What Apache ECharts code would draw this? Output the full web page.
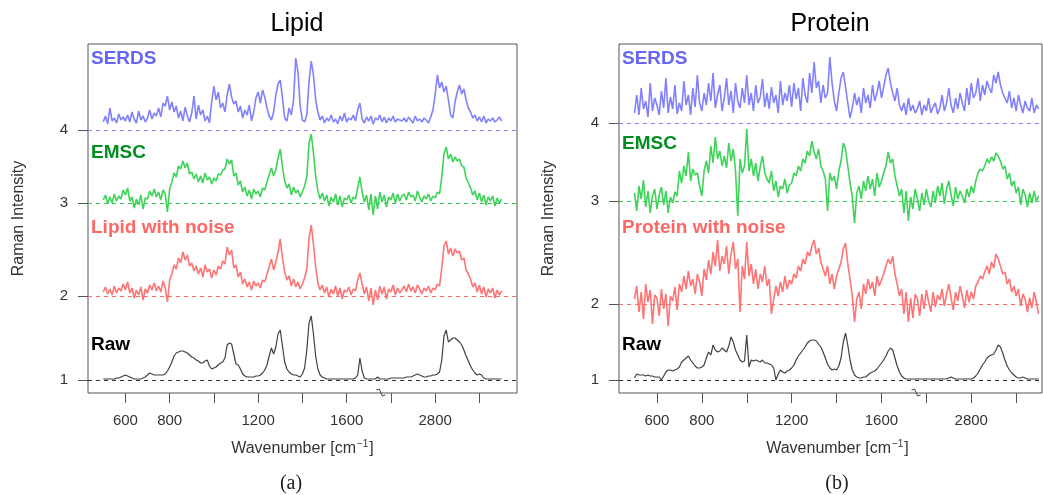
<!DOCTYPE html>
<html lang="en">
<head>
<meta charset="UTF-8">
<title>Lipid / Protein</title>
<style>
    html,body{margin:0;padding:0;background:#fff;}
    #main{width:1043px;height:495px;}
</style>
</head>
<body>
<div id="main"></div>
<script src="https://cdn.jsdelivr.net/npm/echarts@6/dist/echarts.min.js"></script>
<script>
// wavenumbers [cm-1]; the axis is cut between 1750 and 2560
const wavenumber = [
    500,510,520,530,540,550,560,570,580,590,
    600,610,620,630,640,650,660,670,680,690,
    700,710,720,730,740,750,760,770,780,790,
    800,810,820,830,840,850,860,870,880,890,
    900,910,920,930,940,950,960,970,980,990,
    1000,1010,1020,1030,1040,1050,1060,1070,1080,1090,
    1100,1110,1120,1130,1140,1150,1160,1170,1180,1190,
    1200,1210,1220,1230,1240,1250,1260,1270,1280,1290,
    1300,1310,1320,1330,1340,1350,1360,1370,1380,1390,
    1400,1410,1420,1430,1440,1450,1460,1470,1480,1490,
    1500,1510,1520,1530,1540,1550,1560,1570,1580,1590,
    1600,1610,1620,1630,1640,1650,1660,1670,1680,1690,
    1700,1710,1720,1730,1740,1750,
    2560,2570,2580,2590,2600,2610,2620,2630,2640,2650,
    2660,2670,2680,2690,2700,2710,2720,2730,2740,2750,
    2760,2770,2780,2790,2800,2810,2820,2830,2840,2850,
    2860,2870,2880,2890,2900,2910,2920,2930,2940,2950,
    2960,2970,2980,2990,3000,3010,3020,3030,3040,3050,
    3060,3070,3080,3090,3100
];

// every trace in 0.01 intensity units above its own baseline
const lipidRaw = [
    1,1,1,1,1,1,2,2,3,4,
    5,4,3,2,1,1,1,1,2,3,
    5,7,6,5,5,5,5,5,6,9,
    13,18,24,27,28,29,29,28,27,25,
    23,22,20,19,17,17,19,20,14,11,
    12,13,15,17,18,22,35,37,36,26,
    16,15,11,6,4,3,3,3,3,4,
    4,5,7,10,15,24,32,26,33,46,
    50,34,18,11,8,6,5,5,4,3,
    6,12,30,57,64,46,24,11,5,3,
    2,1,1,1,1,1,1,1,1,1,
    1,1,1,1,2,5,22,9,2,1,
    1,1,1,1,3,1,
    1,1,1,1,2,2,2,2,2,2,
    2,3,3,3,4,5,6,5,4,3,
    3,4,4,5,5,6,8,20,44,50,
    38,40,42,42,40,38,35,30,24,19,
    14,10,7,5,6,5,2,1,1,1,
    1,1,1,1,1
];
const lipidNoise = [
    4,9,2,7,1,10,3,8,5,12,
    6,14,3,8,-2,6,1,9,-4,7,
    3,11,6,13,5,10,4,15,8,-6,
    16,22,31,27,38,33,44,36,41,30,
    33,25,30,22,28,19,31,24,27,18,
    26,21,30,27,35,32,49,41,46,28,
    31,19,24,12,17,9,14,6,15,10,
    13,8,16,14,22,29,37,26,34,44,
    57,38,24,16,20,10,17,9,14,7,
    12,18,27,58,71,52,29,13,6,11,
    3,9,-1,7,2,10,0,8,-3,6,
    4,9,1,7,5,16,23,12,2,9,
    -5,8,-9,6,-4,10,
    2,9,-3,7,4,11,1,8,3,6,
    10,4,12,5,9,3,11,7,2,8,
    5,10,3,8,6,12,10,28,50,55,
    42,48,40,47,43,45,36,38,26,22,
    17,9,13,4,11,2,9,-1,7,3,
    8,-2,6,1,5
];
const lipidEmsc = [
    3,8,-1,6,0,9,2,7,4,13,
    8,15,2,6,-5,4,-2,8,-6,5,
    4,12,7,14,6,11,3,13,9,-9,
    14,21,30,26,37,34,42,35,40,29,
    31,24,29,21,27,20,30,23,26,19,
    25,22,29,28,33,34,44,39,43,27,
    30,18,22,11,16,7,13,4,14,9,
    12,6,15,13,21,28,35,27,33,45,
    54,36,22,15,19,8,16,10,13,6,
    11,17,26,60,69,50,27,12,4,10,
    2,8,-3,6,1,9,-2,7,-4,5,
    3,8,0,6,4,15,26,11,1,8,
    -7,9,-12,7,-6,11,
    1,8,-4,6,3,10,0,9,2,7,
    9,3,11,6,8,2,12,6,1,7,
    4,9,2,7,5,11,9,26,49,56,
    44,49,41,46,42,44,37,36,25,20,
    15,8,12,3,10,1,8,-2,6,2,
    7,-3,5,0,4
];
const lipidSerds = [
    8,14,6,22,9,12,7,16,10,13,
    9,15,8,18,11,7,19,10,14,8,
    12,20,11,17,14,22,13,27,24,34,
    20,28,18,24,12,19,9,23,14,8,
    17,34,11,25,15,20,9,14,7,28,
    44,30,38,22,27,18,35,46,33,26,
    29,18,24,12,20,15,25,9,18,32,
    38,27,40,33,22,14,10,18,35,46,
    50,32,12,9,22,15,30,72,58,24,
    10,8,15,48,69,55,30,18,10,14,
    7,12,9,15,8,11,6,14,9,17,
    8,12,10,15,9,20,27,11,7,13,
    9,14,6,12,10,15,
    8,13,7,12,9,14,8,11,10,9,
    12,8,13,10,7,14,9,11,8,12,
    10,7,13,20,35,55,42,48,38,44,
    30,15,12,28,38,45,36,41,30,22,
    18,12,15,9,13,8,14,7,11,9,
    12,8,10,13,9
];

const proteinRaw = [
    2,6,5,5,5,4,5,4,4,3,
    3,3,0,4,8,10,10,9,10,11,
    13,18,20,22,24,20,17,14,12,12,
    13,15,22,28,25,35,30,28,29,32,
    30,28,34,43,38,30,25,20,18,19,
    45,13,20,19,20,19,18,20,17,17,
    16,15,12,0,6,10,8,7,9,10,
    12,15,20,24,27,30,33,37,39,40,
    40,39,36,33,28,22,16,12,10,11,
    10,14,22,38,47,35,20,10,5,3,
    2,2,3,3,5,7,8,9,11,14,
    17,20,24,29,32,30,22,14,8,4,
    2,1,1,1,1,1,
    1,1,1,1,1,1,1,1,1,1,
    1,1,1,1,2,3,2,1,1,1,
    1,1,1,1,1,2,4,7,11,15,
    18,22,24,25,26,30,35,33,27,20,
    14,10,7,5,3,2,2,3,2,1,
    1,1,1,1,1
];
const proteinNoise = [
    5,18,-8,12,-15,20,2,14,-20,9,
    6,-12,15,-5,10,-22,8,3,17,-6,
    20,12,28,15,33,18,25,10,30,22,
    8,35,24,44,30,52,38,64,33,48,
    40,58,30,50,62,35,45,-8,38,25,
    62,28,40,20,35,15,30,22,38,18,
    25,-10,5,18,8,22,12,28,15,24,
    20,30,26,38,33,45,40,52,48,58,
    64,50,56,42,35,28,38,20,30,15,
    28,35,42,55,61,40,25,8,-18,5,
    12,-5,20,10,25,15,22,8,28,18,
    24,30,38,45,40,48,30,20,8,15,
    -10,12,-18,6,-14,10,
    5,-12,10,-5,14,2,-8,12,-3,9,
    4,15,-2,10,20,6,-6,12,3,18,
    8,-4,14,2,12,5,18,22,28,25,
    32,38,30,42,36,50,45,38,30,32,
    20,25,12,18,8,15,-2,10,5,-8,
    6,-4,12,2,-10
];
const proteinEmsc = [
    8,-10,15,2,21,-6,10,-12,5,12,
    -8,6,14,-4,10,-12,4,-2,9,5,
    30,18,35,25,49,20,32,26,28,15,
    5,30,40,28,55,38,64,42,50,35,
    45,33,58,40,52,30,-15,42,28,35,
    72,30,42,25,38,20,34,45,28,22,
    18,30,10,20,4,15,12,22,8,16,
    18,28,25,35,30,42,38,50,45,60,
    49,42,52,35,30,22,-10,28,20,25,
    12,30,40,58,52,35,18,5,-22,8,
    15,2,20,10,25,12,22,5,28,14,
    20,28,35,49,38,42,25,15,5,12,
    -12,10,-20,4,-8,12,
    2,-10,8,-4,12,0,-6,10,-2,15,
    5,18,-3,12,20,6,-5,14,2,10,
    5,-2,12,4,15,8,20,28,32,30,
    35,42,38,44,40,48,45,40,32,35,
    22,28,15,20,8,14,-4,12,6,-6,
    8,-2,10,0,5
];
const proteinSerds = [
    10,28,8,35,14,22,6,40,12,25,
    18,8,32,15,45,10,26,14,38,9,
    20,12,42,18,28,8,35,16,48,20,
    12,30,18,40,22,50,15,28,38,12,
    25,45,18,32,10,40,22,15,35,20,
    48,18,30,12,38,20,26,44,16,30,
    14,36,20,28,10,42,18,30,22,38,
    16,40,24,35,12,45,28,20,50,30,
    61,35,42,20,38,25,30,66,40,22,
    12,30,45,51,36,20,5,15,30,18,
    26,10,35,20,28,15,38,22,30,42,
    25,36,48,55,40,30,22,35,18,12,
    20,8,25,12,18,10,
    14,22,8,18,12,25,10,16,20,9,
    15,28,12,20,35,18,10,25,14,30,
    20,12,35,18,40,25,30,45,22,38,
    28,42,35,30,48,40,51,38,30,25,
    20,32,15,25,12,28,18,10,22,15,
    12,25,10,18,14
];

// baselines of Raw, with noise, EMSC, SERDS (tick labels 1..4)
const lipidBase = [1, 1.84, 2.77, 3.50];
const proteinBase = [1, 1.76, 2.79, 3.57];
const tickLabels = ['1', '2', '3', '4'];
const xTicks = [600, 800, 1000, 1200, 1400, 1600, 1800, 2000, 2200];
const xLabelTicks = [600, 800, 1200, 1600, 2000];

const lineColors = ['#404040', '#ff5c5c', '#1ccb3c', '#6b6bff'];
const lineWidths = [1.2, 1.6, 1.6, 1.6];
const dashColors = ['#333333', '#ff6a6a', '#2fcf4f', '#8585ff'];
const nameColors = ['#000000', '#ff6666', '#008f1f', '#6666f2'];

// cut axis: 2560..3100 is moved left by 800
const posOf = w => (w > 1800 ? w - 800 : w);
const wnOf = p => (p > 1750 ? p + 800 : p);

const myChart = echarts.init(document.getElementById('main'));

const grids = [
    {left: 88, right: 526, top: 44, bottom: 102},
    {left: 619, right: 1, top: 44, bottom: 102}
];
const xRange = [[431, 2370], [431, 2315]];
const bases = [lipidBase, proteinBase];
const traces = [
    [lipidRaw, lipidNoise, lipidEmsc, lipidSerds],
    [proteinRaw, proteinNoise, proteinEmsc, proteinSerds]
];

const series = [];
traces.forEach((set, g) => {
    set.forEach((vals, k) => {
        series.push({
            type: 'line',
            xAxisIndex: g,
            yAxisIndex: g,
            symbol: 'none',
            z: k === 0 ? 3 : 2,
            data: wavenumber.map((w, i) => [posOf(w), bases[g][k] + vals[i] / 100]),
            lineStyle: {color: lineColors[k], width: lineWidths[k], opacity: k === 0 ? 1 : 0.85},
            markLine: {
                silent: true,
                symbol: ['none', 'none'],
                label: {show: false},
                lineStyle: {color: dashColors[k], type: [4, 4], width: 1},
                data: [{yAxis: bases[g][k]}]
            }
        });
    });
});

const axisText = {color: '#333', fontSize: 15, fontFamily: 'Liberation Sans, Arial'};

const option = {
    animation: false,
    grid: grids.map(g => Object.assign({show: true, borderColor: '#555', borderWidth: 1}, g)),
    xAxis: grids.map((g, i) => ({
        type: 'value',
        gridIndex: i,
        min: xRange[i][0],
        max: xRange[i][1],
        name: 'Wavenumber [cm{sup|−1}]',
        nameLocation: 'middle',
        nameGap: 46,
        nameTextStyle: Object.assign({}, axisText, {
            fontSize: 16,
            padding: i === 0 ? 0 : [0, 0, 0, 14],
            rich: {sup: {fontSize: 10, padding: [0, 1, 9, 1], color: '#333'}}
        }),
        axisLine: {show: false},
        splitLine: {show: false},
        axisTick: {length: 10, customValues: xTicks, lineStyle: {color: '#555'}},
        axisLabel: Object.assign({}, axisText, {
            margin: 20,
            customValues: xLabelTicks,
            formatter: v => String(wnOf(v))
        })
    })),
    yAxis: grids.map((g, i) => ({
        type: 'value',
        gridIndex: i,
        min: 0.87,
        max: 4.36,
        name: 'Raman Intensity',
        nameLocation: 'middle',
        nameGap: i === 0 ? 61 : 62,
        nameTextStyle: Object.assign({}, axisText, {fontSize: 16}),
        axisLine: {show: false},
        splitLine: {show: false},
        axisTick: {length: 10, customValues: bases[i], lineStyle: {color: '#555'}},
        axisLabel: Object.assign({}, axisText, {
            margin: 20,
            customValues: bases[i],
            formatter: v => tickLabels[bases[i].findIndex(b => Math.abs(b - v) < 1e-6)]
        })
    })),
    series: series
};

myChart.setOption(option);

// texts and cut marks
const labelY = [
    [345, 228, 153, 59],
    [345, 228, 144, 59]
];
const labelText = [
    ['Raw', 'Lipid with noise', 'EMSC', 'SERDS'],
    ['Raw', 'Protein with noise', 'EMSC', 'SERDS']
];
const elements = [];
[['Lipid', 297], ['Protein', 830]].forEach(([t, x]) => {
    elements.push({type: 'text', x: x, y: 24, style: {
        text: t, fill: '#000', font: '25px Liberation Sans, Arial',
        textAlign: 'center', textVerticalAlign: 'middle'}});
});
[['(a)', 291], ['(b)', 837]].forEach(([t, x]) => {
    elements.push({type: 'text', x: x, y: 484, style: {
        text: t, fill: '#222', font: '20px Liberation Serif, serif',
        textAlign: 'center', textVerticalAlign: 'middle'}});
});
labelText.forEach((names, g) => {
    names.forEach((t, k) => {
        elements.push({type: 'text', x: grids[g].left + 3, y: labelY[g][k], style: {
            text: t, fill: nameColors[k], font: 'bold 19px Liberation Sans, Arial',
            textAlign: 'left', textVerticalAlign: 'middle'}});
    });
});
[0, 1].forEach(g => {
    const p = myChart.convertToPixel({gridIndex: g}, [1752, 0.87]);
    elements.push({type: 'polyline', shape: {points: [
        [p[0] - 4, p[1] - 3], [p[0] - 1, p[1] - 4], [p[0] + 2, p[1] + 3], [p[0] + 5, p[1] + 2]
    ]}, style: {stroke: '#444', lineWidth: 1, fill: null}});
});
myChart.setOption({graphic: elements});
</script>
</body>
</html>
